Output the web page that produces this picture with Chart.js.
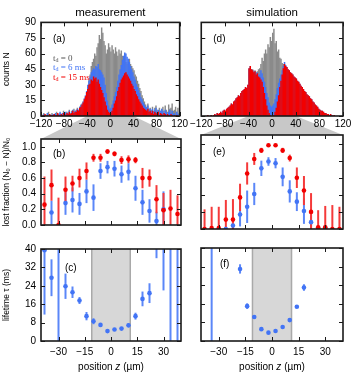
<!DOCTYPE html>
<html>
<head>
<meta charset="utf-8">
<script src="https://cdn.jsdelivr.net/npm/chart.js@4.4.1/dist/chart.umd.min.js"></script>
<style>
body { margin: 0; background: #fff; width: 355px; height: 374px; position: relative; overflow: hidden; }
canvas { position: absolute; }
</style>
</head>
<body>
<canvas id="zoomBg" width="355" height="374" style="left:0;top:0"></canvas>
<canvas id="histMeasChart" width="190" height="132" style="left:0;top:0"></canvas>
<canvas id="histSimChart" width="167" height="132" style="left:188px;top:0"></canvas>
<canvas id="lostMeasChart" width="190" height="108" style="left:0;top:128px"></canvas>
<canvas id="lostSimChart" width="167" height="108" style="left:188px;top:128px"></canvas>
<canvas id="lifeMeasChart" width="190" height="136" style="left:0;top:238px"></canvas>
<canvas id="lifeSimChart" width="167" height="136" style="left:188px;top:238px"></canvas>
<script>
// histograms: 2 um bins from -120 to 120
const binStart = -120;
const binWidth = 2;

const histMeasGray = [2,0,3,1,0,2,4,1,0,3, 1,2,0,4,2,1,3,0,2,5, 3,1,4,2,6,3,5,2,7,4,
  6,8,5,9,11,8,14,12,18,22, 28,35,40,48,52,55,60,58,66,70, 78,74,85,80,72,68,60,64,70,66,
  62,68,64,60,66,62,58,64,60,63, 58,55,60,52,50,52,55,50,48,46, 44,40,38,34,31,27,24,20,17,14,
  11,9,12,7,8,6,9,5,8,10, 6,4,8,5,7,9,5,10,6,4, 11,7,8,12,5,6,9,4,8,3];
const histMeasBlue = [1,0,2,0,1,3,0,2,1,0, 2,1,3,0,1,2,4,1,3,2, 1,4,2,3,5,2,4,6,3,5,
  5,7,6,9,10,12,14,17,20,24, 30,34,38,42,44,46,45,48,47,50, 45,44,42,40,37,30,22,15,10,7,
  8,11,15,19,23,28,34,40,45,49, 54,58,61,60,57,55,52,48,45,42, 38,35,31,28,25,22,18,16,13,11,
  9,8,10,6,7,5,7,4,6,8, 4,6,3,5,7,5,3,6,4,2, 4,6,3,5,2,3,1,4,2,1];
const histMeasRed = [1,0,1,2,0,1,0,2,1,0, 1,2,0,1,3,1,0,2,1,3, 2,1,3,2,4,2,3,5,3,4,
  4,6,5,8,9,11,13,16,19,23, 26,30,31,35,34,38,36,37,33,35, 31,28,25,22,18,14,10,6,4,3,
  3,5,8,12,15,19,24,28,32,35, 37,39,41,42,40,38,36,34,31,29, 26,24,21,19,16,14,12,10,8,7,
  6,5,7,4,5,3,5,2,4,3, 2,4,1,3,2,1,3,2,0,2, 1,0,2,1,0,1,0,1,0,0];

const histSimGray = [0,0,0,0,0,0,0,0,1,0, 1,1,1,2,2,3,3,3,4,5, 5,6,7,8,9,11,11,13,14,16,
  17,19,19,21,23,24,25,27,27,29, 45,46,44,45,43,44,42,43,45,46, 50,56,53,60,64,60,69,66,76,72,
  80,84,70,72,62,64,56,55,51,50, 48,47,46,44,43,41,40,39,37,36, 35,33,32,30,28,27,25,23,22,20,
  19,18,16,15,13,12,10,9,8,6, 5,5,4,3,3,2,2,1,1,1, 1,0,0,0,0,0,0,0,0,0];
const histSimBlue = [0,0,0,0,0,1,0,0,1,0, 1,2,1,3,2,3,4,3,5,6, 5,7,8,9,10,12,11,14,15,17,
  18,20,19,22,24,25,26,28,27,30, 46,48,45,44,42,43,41,42,40,40, 44,41,37,33,28,22,18,13,10,9,
  10,12,16,21,27,32,36,40,44,48, 52,49,47,45,44,42,41,40,38,37, 36,34,33,31,29,28,26,24,23,21,
  20,19,17,16,14,13,11,10,9,7, 6,5,5,4,3,3,2,2,1,2, 1,0,1,0,0,0,0,0,0,0];
const histSimRed = [0,0,0,0,0,1,0,0,1,0, 1,2,1,3,2,3,4,3,5,6, 5,7,8,9,10,12,11,14,15,17,
  18,20,19,22,24,25,26,28,27,30, 46,48,45,44,42,43,40,41,38,37, 35,33,28,22,16,10,6,3,1,0,
  0,1,4,8,14,20,28,34,40,46, 50,48,47,45,44,42,41,40,38,37, 36,34,33,31,29,28,26,24,23,21,
  20,19,17,16,14,13,11,10,9,7, 6,5,5,4,3,3,2,2,1,2, 1,0,1,0,0,0,0,0,0,0];

// lost fraction and lifetime vs position z (um)
const posZ = [-38,-34,-30,-26,-22,-18,-14,-10,-6,-2,2,6,10,14,18,22,26,30,34,38];

const lostMeasRed = [0.26,0.51,0.0,0.45,0.53,0.60,0.69,0.86,0.86,0.94,0.91,0.83,0.84,0.83,0.60,0.60,0.33,0.19,0.21,0.14];
const lostMeasRedErr = [0.36,0.20,0.35,0.17,0.10,0.12,0.11,0.05,0.05,0.03,0.03,0.05,0.05,0.04,0.13,0.11,0.18,0.22,0.24,0.24];
const lostMeasBlue = [null,0.16,null,0.28,0.32,0.27,0.43,0.35,0.69,0.74,0.72,0.65,0.68,0.47,0.29,0.18,0.05,0.20,null,null];
const lostMeasBlueErr = [0,0.15,0,0.15,0.16,0.14,0.15,0.17,0.10,0.08,0.10,0.11,0.11,0.16,0.16,0.15,0.12,0.23,0,0];

const lostSimRed = [0.0,0.01,0.01,0.11,0.11,0.37,0.65,0.82,0.92,0.98,0.98,0.92,0.83,0.60,0.45,0.20,0.02,0.02,0.0,0.0];
const lostSimRedErr = [0.23,0.25,0.25,0.23,0.24,0.16,0.13,0.07,0.03,0.01,0.01,0.03,0.04,0.12,0.17,0.22,0.20,0.25,0.28,0.26];
const lostSimBlue = [null,null,null,0.0,0.04,0.17,0.26,0.41,0.71,0.79,0.77,0.61,0.44,0.32,0.21,0.08,0.0,0.01,null,null];
const lostSimBlueErr = [0,0,0,0.03,0.06,0.14,0.19,0.13,0.09,0.05,0.06,0.11,0.13,0.11,0.15,0.08,0.02,0.02,0,0];

const lifeMeas = [39.5,27.5,45,23.8,21.2,17.6,10.8,8.6,7.0,4.3,5.0,5.4,6.8,10.8,18.3,20.8,44,45,45,45];
const lifeMeasErr = [28,8,45,5.5,2.5,1.5,1.8,1.3,0.8,0.5,0.5,0.6,0.8,1.5,3.2,4.3,8,23,45,45];
const lifeSim = [null,60,null,null,null,31.0,15.0,10.3,5.1,3.6,4.3,6.0,9.0,14.7,23.0,null,null,null,null,null];
const lifeSimErr = [0,60,0,0,0,2.0,1.2,0.5,0.4,0.4,0.4,0.4,0.4,0.5,1.4,0,0,0,0,0];

// tick values
const histTicks = [-120, -80, -40, 0, 40, 80, 120];
const countTicks = [0, 15, 30, 45, 60, 75, 90];
const zTicks = [-30, -15, 0, 15, 30];
const lostTicks = [0, 0.2, 0.4, 0.6, 0.8, 1.0];
const lifeTicks = [0, 8, 16, 24, 32, 40];

const zoomLo = -40, zoomHi = 40;   // window of the histogram shown below
const shadeLo = -11, shadeHi = 11;  // gray band in the lifetime panels

const grayC = '#8a8a8a';
const blueC = '#4274f5';
const redC = '#f20000';
const redErrC = '#f53a3a';
const blueErrC = '#5b87f8';

Chart.defaults.font.family = '"Liberation Sans", Arial, sans-serif';
Chart.defaults.color = '#000';
Chart.defaults.animation = false;

const binCenters = histMeasGray.map((_, i) => binStart + binWidth * (i + 0.5));
const minus = v => String(v).replace('-', '\u2212');

// frame with inward ticks on all four sides, panel letter, legend, shaded band
const framePlugin = {
  id: 'frame',
  beforeDatasetsDraw(chart, args, opts) {
    if (opts.shade) {
      const { ctx, chartArea: a, scales: { x } } = chart;
      const x0 = x.getPixelForValue(shadeLo), x1 = x.getPixelForValue(shadeHi);
      ctx.save();
      ctx.fillStyle = '#d7d7d7';
      ctx.fillRect(x0, a.top, x1 - x0, a.bottom - a.top);
      ctx.strokeStyle = '#a9a9a9';
      ctx.lineWidth = 1.5;
      ctx.beginPath();
      ctx.moveTo(x0, a.top); ctx.lineTo(x0, a.bottom);
      ctx.moveTo(x1, a.top); ctx.lineTo(x1, a.bottom);
      ctx.stroke();
      ctx.restore();
    }
  },
  afterDraw(chart, args, opts) {
    const { ctx, chartArea: a, scales: { x, y } } = chart;
    ctx.save();
    ctx.strokeStyle = '#1a1a1a';
    ctx.lineWidth = 1;
    ctx.beginPath();
    x.ticks.forEach(t => {
      const px = Math.round(x.getPixelForValue(t.value)) + 0.5;
      ctx.moveTo(px, a.bottom); ctx.lineTo(px, a.bottom - 4);
      ctx.moveTo(px, a.top); ctx.lineTo(px, a.top + 4);
    });
    y.ticks.forEach(t => {
      const py = Math.round(y.getPixelForValue(t.value)) + 0.5;
      ctx.moveTo(a.left, py); ctx.lineTo(a.left + 4, py);
      ctx.moveTo(a.right, py); ctx.lineTo(a.right - 4, py);
    });
    ctx.stroke();
    ctx.lineWidth = 1.6;
    ctx.strokeRect(a.left, a.top, a.right - a.left, a.bottom - a.top);

    ctx.fillStyle = '#000';
    ctx.font = '10px "Liberation Sans", Arial, sans-serif';
    ctx.textBaseline = 'middle';
    ctx.fillText(opts.label, a.left + opts.dx, a.top + opts.dy);

    if (opts.xTitle) {
      // "position z (um)" with italic z
      const parts = [['position ', ''], ['z', 'italic '], [' (\u00b5m)', '']];
      let w = 0;
      parts.forEach(p => { ctx.font = p[1] + '10px "Liberation Sans", Arial, sans-serif'; w += ctx.measureText(p[0]).width; });
      let px = (a.left + a.right) / 2 - w / 2;
      const py = chart.height - 7;
      parts.forEach(p => {
        ctx.font = p[1] + '10px "Liberation Sans", Arial, sans-serif';
        ctx.fillText(p[0], px, py);
        px += ctx.measureText(p[0]).width;
      });
    }

    if (opts.legend) {
      const items = [['0', '#555555'], ['6 ms', blueC], ['15 ms', redC]];
      items.forEach((it, i) => {
        let px = a.left + 12;
        const py = a.top + 36 + i * 9.5;
        ctx.fillStyle = it[1];
        ctx.font = '9px "Liberation Serif", serif';
        ctx.fillText('t', px, py);
        px += ctx.measureText('t').width;
        ctx.font = '6px "Liberation Serif", serif';
        ctx.fillText('d', px, py + 2);
        px += ctx.measureText('d').width;
        ctx.font = '9px "Liberation Serif", serif';
        ctx.fillText(' = ' + it[0], px, py);
      });
    }
    ctx.restore();
  }
};
Chart.register(framePlugin);

function histSet(vals, color) {
  return {
    data: vals.map((v, i) => ({ x: binCenters[i], y: v })),
    backgroundColor: color,
    grouped: false,
    barPercentage: 1.25,
    categoryPercentage: 1,
    borderWidth: 0
  };
}

function errSet(vals, errs, color) {
  return {
    type: 'bar',
    data: posZ.map((x, i) => ({ x: x, y: vals[i] === null ? null : [vals[i] - errs[i], vals[i] + errs[i]] }))
      .filter(d => d.y !== null),
    backgroundColor: color,
    barThickness: 2,
    grouped: false,
    inflateAmount: 0,
    clip: 0
  };
}

function pointSet(vals, color) {
  return {
    type: 'scatter',
    data: posZ.map((x, i) => ({ x: x, y: vals[i] })).filter(d => d.y !== null),
    backgroundColor: color,
    pointRadius: 2.3,
    borderWidth: 0,
    clip: 0
  };
}

function xAxis(min, max, tickVals, showLabels, height) {
  return {
    type: 'linear', min: min, max: max, offset: false,
    grid: { display: false, drawTicks: false }, border: { display: false },
    ticks: { display: showLabels, maxRotation: 0, autoSkip: false,
      padding: height > 20 ? 5 : 2, font: { size: 10 }, callback: v => minus(v) },
    afterBuildTicks: s => { s.ticks = tickVals.map(v => ({ value: v })); },
    afterFit: s => { s.height = height; }
  };
}

function yAxis(min, max, tickVals, left, title, fmt) {
  return {
    min: min, max: max,
    grid: { display: false, drawTicks: false }, border: { display: false },
    ticks: { display: left, padding: 5, font: { size: 10 }, callback: fmt },
    afterBuildTicks: s => { s.ticks = tickVals.map(v => ({ value: v })); },
    title: { display: !!title, text: title, font: { size: 8.5 }, padding: { top: 2, bottom: 0 } },
    afterFit: s => { s.width = left ? 41 : 13; }
  };
}

function makeHist(id, left, head, gray, blue, red, label) {
  return new Chart(document.getElementById(id), {
    type: 'bar',
    data: { datasets: [histSet(red, redC), histSet(blue, blueC), histSet(gray, grayC)] },
    options: {
      responsive: false,
      layout: { padding: { right: left ? 9 : 12 } },
      scales: {
        x: xAxis(-120, 120, histTicks, true, 16),
        y: yAxis(0, 90, countTicks, left, left ? 'counts N' : '', v => v)
      },
      plugins: {
        legend: { display: false }, tooltip: { enabled: false },
        title: { display: true, text: head, fullSize: false, font: { size: 11.5, weight: 'normal' }, padding: { top: 6, bottom: 2.6 } },
        frame: { label: label, dx: 12, dy: 17, legend: left }
      }
    }
  });
}

function makeLost(id, left, red, redErr, blue, blueErr, label) {
  return new Chart(document.getElementById(id), {
    type: 'bar',
    data: { datasets: [pointSet(red, redC), pointSet(blue, blueC),
      errSet(red, redErr, redErrC), errSet(blue, blueErr, blueErrC)] },
    options: {
      responsive: false,
      layout: { padding: { top: 7, right: left ? 9 : 12 } },
      scales: {
        x: xAxis(-40, 40, zTicks, false, 7),
        y: yAxis(0, 1.1, lostTicks, left, left ? 'lost fraction (N\u2080 \u2212 N)/N\u2080' : '', v => v.toFixed(1))
      },
      plugins: {
        legend: { display: false }, tooltip: { enabled: false },
        frame: { label: label, dx: 12, dy: left ? 15 : 17 }
      }
    }
  });
}

function makeLife(id, left, vals, errs, label, dx, dy) {
  return new Chart(document.getElementById(id), {
    type: 'bar',
    data: { datasets: [pointSet(vals, blueC), errSet(vals, errs, blueErrC)] },
    options: {
      responsive: false,
      layout: { padding: { top: 10, right: left ? 9 : 12 } },
      scales: {
        x: xAxis(-40, 40, zTicks, true, 33),
        y: yAxis(0, 40, lifeTicks, left, left ? 'lifetime \u03c4 (ms)' : '', v => v)
      },
      plugins: {
        legend: { display: false }, tooltip: { enabled: false },
        frame: { label: label, dx: dx, dy: dy, shade: true, xTitle: true }
      }
    }
  });
}

const histMeasChart = makeHist('histMeasChart', true, 'measurement', histMeasGray, histMeasBlue, histMeasRed, '(a)');
const histSimChart = makeHist('histSimChart', false, 'simulation', histSimGray, histSimBlue, histSimRed, '(d)');
const lostMeasChart = makeLost('lostMeasChart', true, lostMeasRed, lostMeasRedErr, lostMeasBlue, lostMeasBlueErr, '(b)');
const lostSimChart = makeLost('lostSimChart', false, lostSimRed, lostSimRedErr, lostSimBlue, lostSimBlueErr, '(e)');
const lifeMeasChart = makeLife('lifeMeasChart', true, lifeMeas, lifeMeasErr, '(c)', 24, 19);
const lifeSimChart = makeLife('lifeSimChart', false, lifeSim, lifeSimErr, '(f)', 19, 16);

// gray funnel from the zoom window of each histogram to the panel below
function drawFunnel(top, bottom) {
  const ctx = document.getElementById('zoomBg').getContext('2d');
  const tx = top.canvas.offsetLeft, ty = top.canvas.offsetTop;
  const bx = bottom.canvas.offsetLeft, by = bottom.canvas.offsetTop;
  const xs = top.scales.x, xb = bottom.scales.x;
  ctx.fillStyle = '#c8c8c8';
  ctx.beginPath();
  ctx.moveTo(tx + xs.getPixelForValue(zoomLo), ty + top.chartArea.bottom);
  ctx.lineTo(tx + xs.getPixelForValue(zoomHi), ty + top.chartArea.bottom);
  ctx.lineTo(bx + xb.getPixelForValue(zoomHi), by + bottom.chartArea.top);
  ctx.lineTo(bx + xb.getPixelForValue(zoomLo), by + bottom.chartArea.top);
  ctx.closePath();
  ctx.fill();
}
drawFunnel(histMeasChart, lostMeasChart);
drawFunnel(histSimChart, lostSimChart);
</script>
</body>
</html>
